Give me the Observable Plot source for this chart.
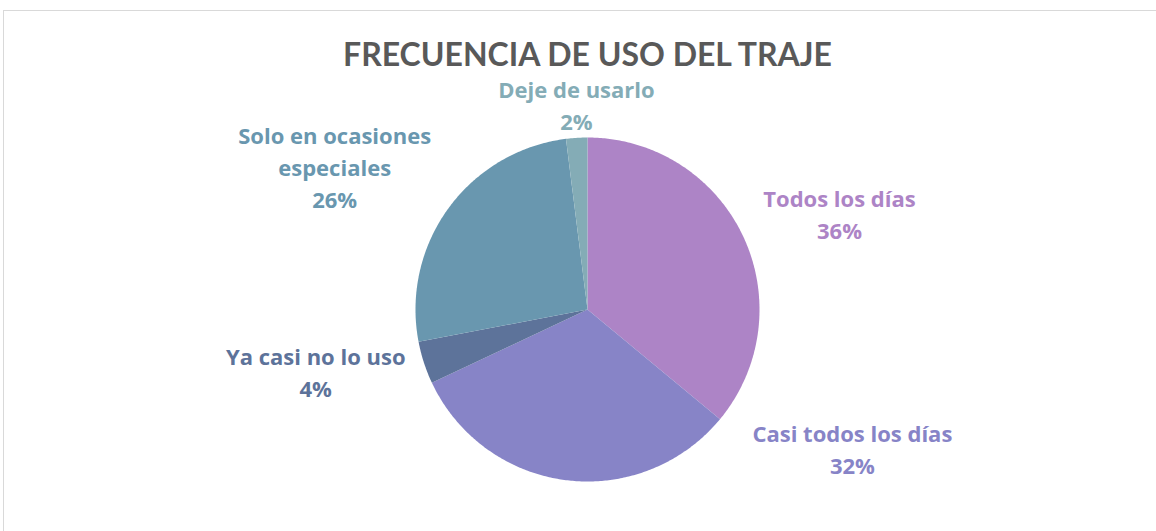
<!DOCTYPE html>
<html>
<head>
<meta charset="utf-8">
<script src="https://cdn.jsdelivr.net/npm/d3@7"></script>
<script src="https://cdn.jsdelivr.net/npm/@observablehq/plot@0.6"></script>
<style>
  html, body { margin: 0; padding: 0; background: #fff; overflow: hidden; }
  #wrap { position: relative; width: 1156px; height: 531px; overflow: hidden; }
  #frame { position: absolute; left: 3px; top: 10px; width: 2000px; height: 2000px; border: 1px solid #d9d9d9; box-sizing: border-box; }
  #chart { position: absolute; left: 0; top: 0; }
</style>
</head>
<body>
<div id="wrap"><div id="frame"></div><div id="chart"></div></div>
<script>
// ---- data ----
const title = "FRECUENCIA DE USO DEL TRAJE";
const categories = ["Todos los días", "Casi todos los días", "Ya casi no lo uso", "Solo en ocasiones especiales", "Deje de usarlo"];
const values = [36, 32, 4, 26, 2];
const colors = ["#AD84C6", "#8784C7", "#5D739A", "#6997AF", "#84ACB6"];
const labelLines = [["Todos los días"], ["Casi todos los días"], ["Ya casi no lo uso"], ["Solo en ocasiones", "especiales"], ["Deje de usarlo"]];

// ---- layout (not data) ----
const W = 1156, H = 531;
const cx = 587, cy = 309, R = 172;
// label block centres relative to pie centre, in radius units (Excel "best fit" placement)
const labelLayout = [
  {dx: 1.465, dy: -0.545},
  {dx: 1.54, dy: 0.82},
  {dx: -1.58, dy: 0.375},
  {dx: -1.47, dy: -0.815},
  {dx: -0.064, dy: -1.175}
];
const lineGap = 32;

const rows = categories.map((c, i) => ({category: c, value: values[i], color: colors[i], lines: labelLines[i], i}));
const arcs = d3.pie().sort(null).value(d => d.value)(rows);

const features = arcs.map(a => {
  const pts = [[cx, cy]];
  const n = Math.max(2, Math.ceil((a.endAngle - a.startAngle) / 0.01));
  for (let k = 0; k <= n; k++) {
    const t = a.startAngle + (a.endAngle - a.startAngle) * k / n;
    pts.push([cx + R * Math.sin(t), cy - R * Math.cos(t)]);
  }
  pts.push([cx, cy]);
  return {type: "Feature", properties: {color: a.data.color}, geometry: {type: "Polygon", coordinates: [pts]}};
});

const labels = [];
rows.forEach((r, i) => {
  const L = labelLayout[i];
  const all = [...r.lines, Math.round(r.value) + "%"];
  const x0 = cx + L.dx * R, y0 = cy + L.dy * R;
  all.forEach((t, k) => {
    labels.push({text: t, x: x0, y: y0 + (k - (all.length - 1) / 2) * lineGap, color: r.color});
  });
});

const chart = Plot.plot({
  width: W,
  height: H,
  margin: 0,
  projection: {type: "identity"},
  style: {fontFamily: "Lato, 'Open Sans', sans-serif", background: "transparent"},
  marks: [
    Plot.geo(features, {fill: d => d.properties.color, stroke: "none", style: "filter: drop-shadow(0px 3px 4px rgba(0,0,0,0.28));"}),
    Plot.text(labels, {x: "x", y: "y", text: "text", fill: "color", fontSize: 22, fontWeight: "bold", fontFamily: "'Open Sans', sans-serif", textAnchor: "middle", lineAnchor: "middle"}),
    Plot.text([title], {x: () => cx, y: () => 55, text: d => d, fill: "#595959", fontSize: 32, fontWeight: "bold", textAnchor: "middle", lineAnchor: "middle"})
  ]
});
document.getElementById("chart").appendChild(chart);
</script>
</body>
</html>
